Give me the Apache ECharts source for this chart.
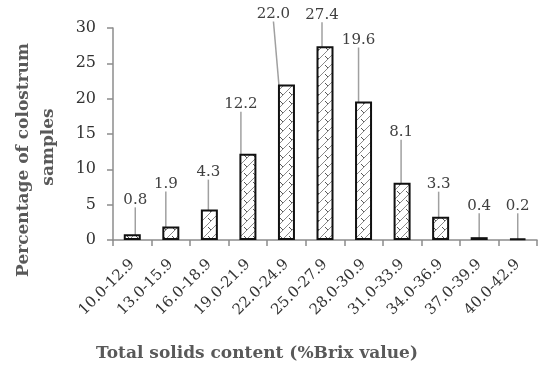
<!DOCTYPE html>
<html>
<head>
<meta charset="utf-8">
<script src="https://cdn.jsdelivr.net/npm/echarts@6/dist/echarts.min.js"></script>
<style>html,body{margin:0;padding:0;background:#fff}#c{width:550px;height:375px}</style>
</head>
<body>
<div id="c"></div>
<script>
const categories = ['10.0-12.9','13.0-15.9','16.0-18.9','19.0-21.9','22.0-24.9','25.0-27.9','28.0-30.9','31.0-33.9','34.0-36.9','37.0-39.9','40.0-42.9'];
const values = [0.8, 1.9, 4.3, 12.2, 22.0, 27.4, 19.6, 8.1, 3.3, 0.4, 0.2];
const yTicks = [0, 5, 10, 15, 20, 25, 30];
const xTitle = 'Total solids content (%Brix value)';
const yTitle1 = 'Percentage of colostrum';
const yTitle2 = 'samples';

// label offsets (style, not data)
const labelDx = [3, -5, -1, -7, -13, -3, -5, -1, -2, 0, 0];
const labelDy = [-22, -30, -25, -37, -58, -19, -49, -38, -20, -19, -20];

function makePattern() {
  const c = document.createElement('canvas');
  c.width = 9; c.height = 9;
  const g = c.getContext('2d');
  g.fillStyle = '#fff'; g.fillRect(0, 0, 9, 9);
  g.strokeStyle = '#8a8a8a'; g.lineWidth = 1;
  g.beginPath(); g.moveTo(0, 9); g.lineTo(9, 0); g.stroke();
  g.beginPath(); g.moveTo(-1, 1); g.lineTo(1, -1); g.stroke();
  g.beginPath(); g.moveTo(8, 10); g.lineTo(10, 8); g.stroke();
  g.strokeStyle = '#555';
  g.beginPath(); g.moveTo(1, 2); g.lineTo(4, 5); g.stroke();
  return c;
}

const chart = echarts.init(document.getElementById('c'));
const FONT = 'DejaVu Serif';
chart.setOption({
  animation: false,
  grid: { left: 113, right: 13, top: 28, bottom: 135 },
  xAxis: {
    type: 'category',
    data: categories,
    axisLine: { lineStyle: { color: '#8c8c8c', width: 1.5 } },
    axisTick: { show: true, length: 6, lineStyle: { color: '#8c8c8c', width: 1.5 } },
    axisLabel: { rotate: 45, margin: 22, color: '#333', fontFamily: FONT, fontSize: 15, interval: 0 }
  },
  yAxis: {
    type: 'value',
    min: yTicks[0], max: yTicks[yTicks.length - 1], interval: 5,
    splitLine: { show: false },
    axisLine: { show: true, lineStyle: { color: '#8c8c8c', width: 1.5 } },
    axisTick: { show: true, length: 6, lineStyle: { color: '#8c8c8c', width: 1.5 } },
    axisLabel: { margin: 17, color: '#333', fontFamily: FONT, fontSize: 16 }
  },
  graphic: [
    { type: 'text', x: 257, y: 345, style: { text: xTitle, fontFamily: FONT, fontWeight: 'bold', fontSize: 17, fill: '#595959', align: 'center', verticalAlign: 'top' } },
    { type: 'text', rotation: Math.PI / 2, x: 15, y: 160, style: { text: yTitle1, fontFamily: FONT, fontWeight: 'bold', fontSize: 17, fill: '#595959', align: 'center', verticalAlign: 'top' } },
    { type: 'text', rotation: Math.PI / 2, x: 40, y: 147, style: { text: yTitle2, fontFamily: FONT, fontWeight: 'bold', fontSize: 17, fill: '#595959', align: 'center', verticalAlign: 'top' } }
  ],
  series: [{
    type: 'bar',
    data: values,
    barWidth: 17,
    itemStyle: { color: { image: makePattern(), repeat: 'repeat' }, borderColor: '#111', borderWidth: 2 },
    label: { show: true, position: 'top', distance: 0, padding: [0, 0, 5, 0], formatter: p => p.value.toFixed(1), fontFamily: FONT, fontSize: 15, color: '#404040' },
    labelLayout: p => ({ dx: labelDx[p.dataIndex], dy: labelDy[p.dataIndex] }),
    labelLine: { show: true, lineStyle: { color: '#a0a0a0', width: 1.5 } }
  }]
});
</script>
</body>
</html>
